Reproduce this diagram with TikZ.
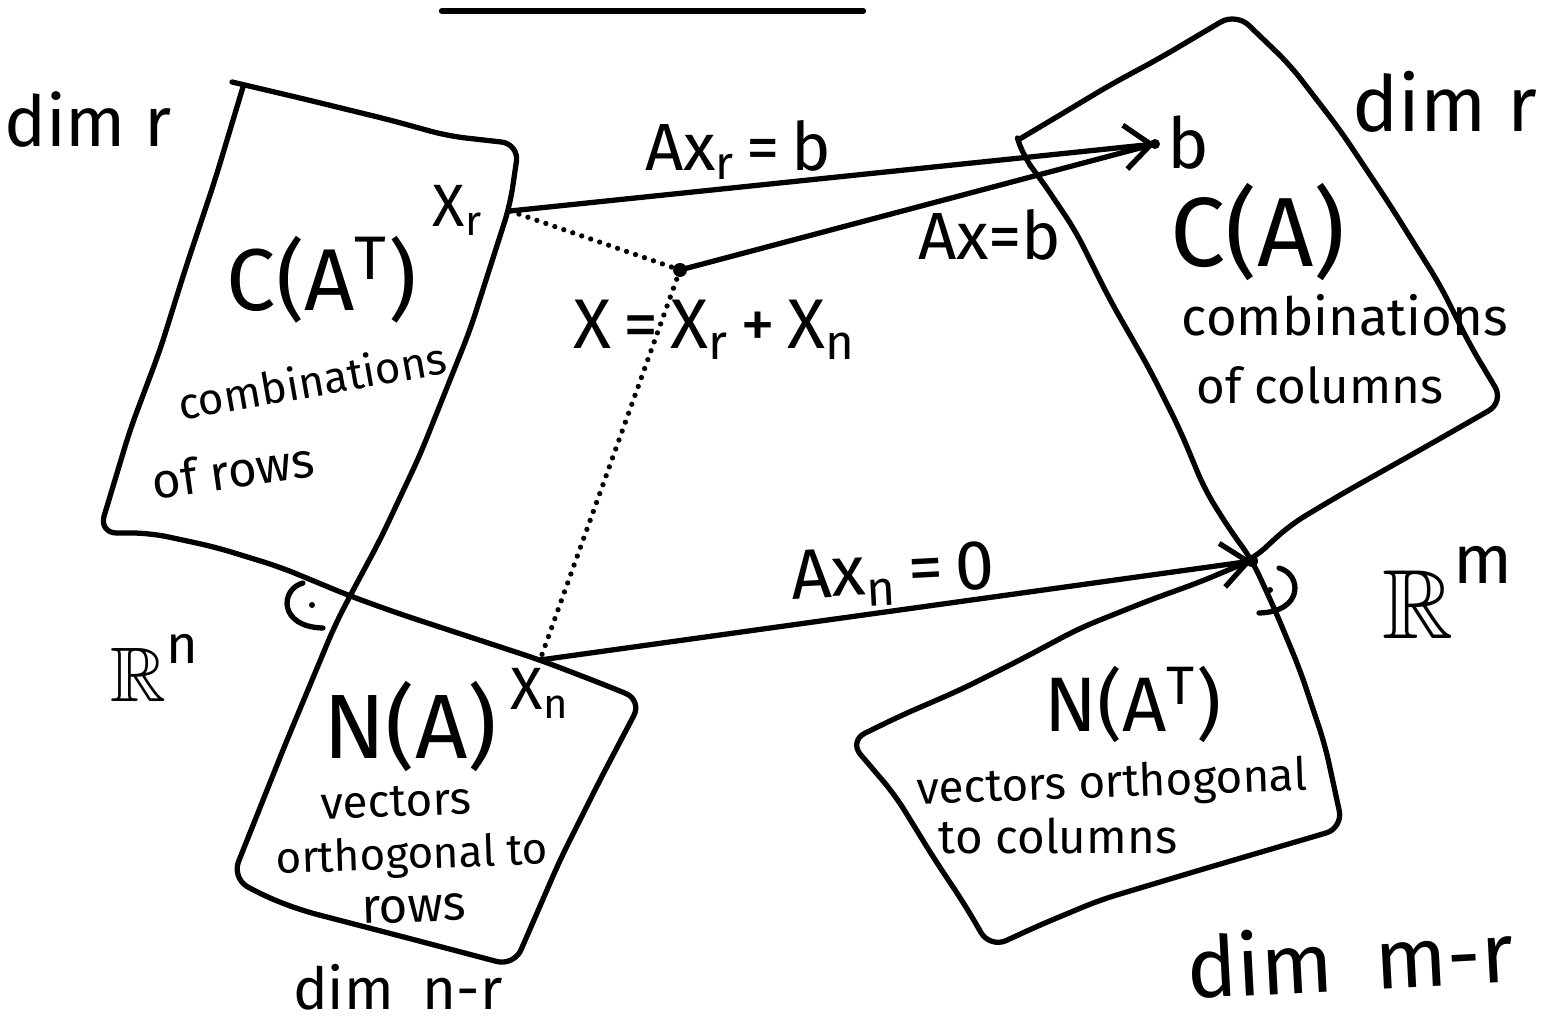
\documentclass[tikz,border=0pt]{standalone}
\usepackage{fontspec}
\setmainfont{Fira Sans}
\usepackage{amssymb}
\usetikzlibrary{arrows.meta}

\tikzset{
    pen/.style={line width=1.5pt, line cap=round, line join=round},
    dotline/.style={line width=1.5pt, line cap=round, dash pattern=on 0pt off 2.7pt},
    hand/.style={inner sep=0pt, font=\fontsize{#1}{#1}\selectfont},
    barb/.style={-{Straight Barb[length=2.6mm,width=4.4mm]}},
}

% half circle with a dot = right angle
\newcommand{\perpmark}[3]{
    \begin{scope}[shift={(#1,#2)},xscale=#3]
        \draw[pen] (-9,-22) .. controls (-32,-16) and (-34,22) .. (11,23);
        \fill (0,0) circle (3);
    \end{scope}
}

\begin{document}
\begin{tikzpicture}[x=0.1mm,y=-0.1mm]
    \useasboundingbox (0,0) rectangle (1542,1024);
    % underline of the title
    \draw[pen, line width=1.8pt] (442,11) -- (863,11);

    % row space and nullspace
    \draw[pen, rounded corners=5pt] (232,82) -- (300,98) -- (390,120) -- (448,136) -- (519,144)
        -- (510,205) -- (470,330) -- (420,455) -- (380,540) -- (350,596) -- (335,625) -- (285,745)
        -- (232,878) -- (262,895) -- (300,910) -- (400,936) -- (514,966) -- (560,860) -- (600,780)
        -- (642,700) -- (600,683) -- (540,660) -- (470,637) -- (400,614) -- (350,596) -- (280,567)
        -- (215,547) -- (150,533) -- (99,533) -- (130,430) -- (160,350) -- (185,270) -- (215,180)
        -- (243,87);

    % column space and left nullspace
    \draw[pen, rounded corners=5pt] (1018,140) -- (1060,115) -- (1110,85) -- (1160,58) -- (1236,13)
        -- (1290,65) -- (1340,130) -- (1390,205) -- (1440,285) -- (1470,345) -- (1504,402)
        -- (1420,450) -- (1340,495) -- (1290,525) -- (1252,560) -- (1200,582) -- (1150,600)
        -- (1080,628) -- (1020,660) -- (960,690) -- (900,716) -- (849,741) -- (895,795)
        -- (935,860) -- (965,905) -- (990,948) -- (1040,925) -- (1100,900) -- (1200,870)
        -- (1343,828) -- (1325,745) -- (1300,670) -- (1275,610) -- (1252,560) -- (1230,530)
        -- (1205,490) -- (1180,430) -- (1150,370) -- (1110,300) -- (1075,230) -- (1040,178)
        -- (1022,155) -- (1018,140);

    \perpmark{312}{605}{1}
    \perpmark{1270}{590}{-1}

    % the vectors
    \coordinate (xr) at (510,211);
    \coordinate (xpt) at (680,270);
    \coordinate (xn) at (540,660);
    \coordinate (b) at (1155,144);
    \coordinate (zero) at (1252,561);

    \draw[dotline] (xr) -- (xpt) -- (xn);
    \draw[pen, barb] (xr) -- (b);
    \draw[pen] (xpt) -- (b);
    \draw[pen, barb] (xn) -- (zero);
    \fill (xpt) circle (7);
    \fill (b) circle (5);
    \fill (zero) circle (6);

    % labels left
    \draw[] node[hand=20] (dimrow) at (88,120) {dim r};
    \draw[] node[hand=17] (labxr) at (458,210) {X\textsubscript{r}};
    \draw[] node[hand=25] (rowsp) at (322,280) {C(A\textsuperscript{T})};
    \draw[] node[hand=12.5,rotate=10] (rowcomb) at (312,380) {combinations};
    \draw[] node[hand=14,rotate=8] (rowof) at (233,470) {of rows};
    \draw[] node[hand=22] (rn) at (155,668) {$\mathbb{R}$\raisebox{0.3ex}{\textsuperscript{n}}};
    \draw[] node[hand=26] (nullsp) at (410,727) {N(A)};
    \draw[] node[hand=17] (labxn) at (540,693) {X\textsubscript{n}};
    \draw[] node[hand=13,rotate=2] (nullvec) at (396,802) {vectors};
    \draw[] node[hand=12.5,rotate=2] (nullorth) at (412,857) {orthogonal to};
    \draw[] node[hand=14,rotate=2] (nullrows) at (414,909) {rows};
    \draw[] node[hand=16.5] (dimnull) at (398,987) {dim\enspace n-r};

    % labels middle
    \draw[] node[hand=19] (eqxr) at (738,150) {Ax\textsubscript{r}\,=\,b};
    \draw[] node[hand=19] (eqx) at (990,235) {Ax=b};
    \draw[] node[hand=20] (eqsum) at (715,330) {X\,=\,X\textsubscript{r}\,+\,X\textsubscript{n}};
    \draw[] node[hand=20,rotate=3] (eqxn) at (893,575) {Ax\textsubscript{n}\,=\,0};

    % labels right
    \draw[] node[hand=22] (dimcol) at (1445,102) {dim r};
    \draw[] node[hand=20] (labb) at (1188,143) {b};
    \draw[] node[hand=28] (colsp) at (1258,232) {C(A)};
    \draw[] node[hand=15] (colcomb) at (1345,315) {combinations};
    \draw[] node[hand=14] (colof) at (1320,385) {of columns};
    \draw[] node[hand=28] (rm) at (1448,592) {$\mathbb{R}$\raisebox{0.45ex}{\textsuperscript{m}}};
    \draw[] node[hand=22] (lnullsp) at (1133,704) {N(A\textsuperscript{T})};
    \draw[] node[hand=13,rotate=2] (lnullvec) at (1112,785) {vectors orthogonal};
    \draw[] node[hand=13.5] (lnullcol) at (1058,836) {to columns};
    \draw[] node[hand=24,rotate=3] (dimlnull) at (1350,958) {dim\enspace m-r};

\end{tikzpicture}
\end{document}
